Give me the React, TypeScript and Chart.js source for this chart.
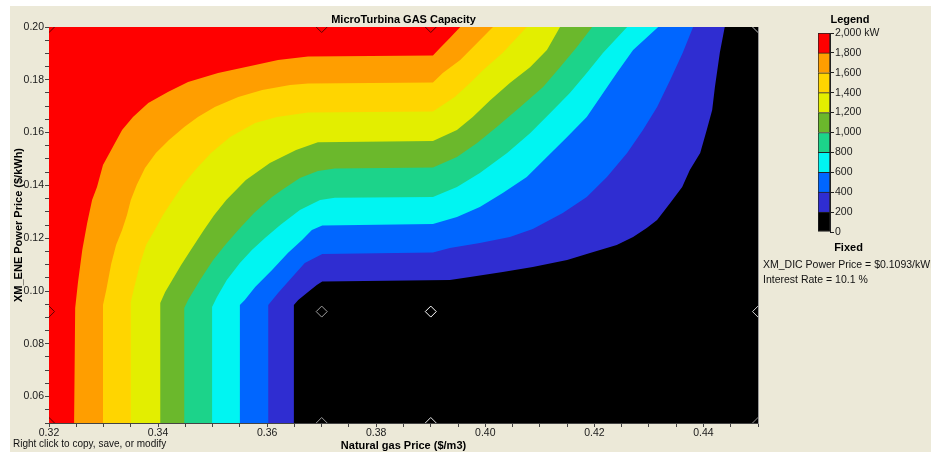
import React, { useEffect, useRef } from "react";
import { Chart, registerables } from "chart.js";

Chart.register(...registerables);

// ---------- data ----------
const gasRange = [0.32, 0.45];
const powerRange = [0.05, 0.2];

// contour lines [natural gas price $/m3, XM_ENE power price $/kWh], bottom -> top
const contour1800 = [
  [0.3246, 0.05], [0.3248, 0.0936], [0.3253, 0.103], [0.3261, 0.1155], [0.327, 0.1258],
  [0.3279, 0.1345], [0.3288, 0.1394], [0.3299, 0.1477], [0.3317, 0.1545], [0.3334, 0.161],
  [0.3354, 0.1659], [0.3382, 0.1712], [0.3418, 0.1754], [0.3455, 0.1792], [0.351, 0.1826],
  [0.3578, 0.1856], [0.362, 0.1875], [0.3675, 0.1888], [0.3904, 0.1892], [0.3917, 0.192],
  [0.3935, 0.1958], [0.3954, 0.2],
];
const contour1600 = [
  [0.3299, 0.05], [0.3299, 0.0947], [0.3305, 0.1004], [0.3314, 0.1102], [0.3323, 0.1174],
  [0.3334, 0.1231], [0.3343, 0.1288], [0.335, 0.1345], [0.3361, 0.1402], [0.3376, 0.1466],
  [0.3396, 0.1523], [0.342, 0.1572], [0.3448, 0.1621], [0.3473, 0.1659], [0.3504, 0.1697],
  [0.3547, 0.1735], [0.3591, 0.1761], [0.3642, 0.178], [0.3675, 0.1786], [0.3904, 0.179],
  [0.3922, 0.1826], [0.3954, 0.1875], [0.3985, 0.1939], [0.4014, 0.2],
];
const contour1400 = [
  [0.335, 0.05], [0.335, 0.0958], [0.3356, 0.1011], [0.3367, 0.1102], [0.3378, 0.1174],
  [0.3394, 0.1231], [0.3409, 0.1288], [0.3427, 0.1345], [0.3446, 0.1402], [0.3468, 0.1458],
  [0.3497, 0.1523], [0.3532, 0.1583], [0.3578, 0.1636], [0.3618, 0.1659], [0.3675, 0.1676],
  [0.3904, 0.168], [0.3944, 0.1735], [0.3972, 0.1788], [0.3996, 0.1837], [0.4032, 0.1902],
  [0.4076, 0.2],
];
const contour1200 = [
  [0.3404, 0.05], [0.3404, 0.0955], [0.3413, 0.0996], [0.3426, 0.1042], [0.3442, 0.1098],
  [0.346, 0.1155], [0.3484, 0.1231], [0.3503, 0.1288], [0.3525, 0.1345], [0.3561, 0.142],
  [0.3605, 0.1485], [0.3653, 0.1534], [0.3693, 0.1563], [0.3904, 0.1568], [0.3948, 0.161],
  [0.3977, 0.1659], [0.4009, 0.1723], [0.4045, 0.1788], [0.4082, 0.1848], [0.4113, 0.1913],
  [0.4137, 0.2],
];
const contour1000 = [
  [0.3448, 0.05], [0.3448, 0.0936], [0.3455, 0.0966], [0.3477, 0.1042], [0.3501, 0.1117],
  [0.3523, 0.1174], [0.3547, 0.1231], [0.3576, 0.1295], [0.3609, 0.1356], [0.3627, 0.1383],
  [0.366, 0.1428], [0.3693, 0.1455], [0.3724, 0.1464], [0.3904, 0.1468], [0.3948, 0.1508],
  [0.3985, 0.1561], [0.4021, 0.1621], [0.4064, 0.1697], [0.4106, 0.1773], [0.4137, 0.1848],
  [0.4168, 0.1924], [0.4196, 0.2],
];
const contour800 = [
  [0.3499, 0.05], [0.3499, 0.0939], [0.3508, 0.0977], [0.3526, 0.1042], [0.355, 0.1106],
  [0.3572, 0.1155], [0.3596, 0.1201], [0.3624, 0.125], [0.366, 0.1307], [0.3697, 0.1345],
  [0.3724, 0.1353], [0.3904, 0.1356], [0.3948, 0.1394], [0.399, 0.1447], [0.404, 0.1523],
  [0.4082, 0.1598], [0.4119, 0.1674], [0.4155, 0.175], [0.4186, 0.1826], [0.4216, 0.1902],
  [0.426, 0.2],
];
const contour600 = [
  [0.355, 0.05], [0.355, 0.0947], [0.3559, 0.0966], [0.3578, 0.1015], [0.3609, 0.108],
  [0.3638, 0.1144], [0.3664, 0.1193], [0.3682, 0.1231], [0.3701, 0.1248], [0.3904, 0.1254],
  [0.3948, 0.128], [0.399, 0.1318], [0.4032, 0.1371], [0.4076, 0.1432], [0.4113, 0.1508],
  [0.415, 0.1583], [0.4186, 0.1659], [0.4216, 0.175], [0.4241, 0.1826], [0.4271, 0.1913],
  [0.4317, 0.2],
];
const contour400 = [
  [0.3602, 0.05], [0.3602, 0.0947], [0.362, 0.0992], [0.3646, 0.1053], [0.3669, 0.1106],
  [0.3701, 0.114], [0.3904, 0.1146], [0.3935, 0.1163], [0.399, 0.1182], [0.4045, 0.1205],
  [0.4087, 0.1235], [0.4142, 0.1295], [0.4186, 0.1356], [0.4223, 0.1432], [0.426, 0.1523],
  [0.4289, 0.161], [0.4315, 0.1697], [0.4339, 0.1799], [0.4362, 0.1902], [0.4381, 0.2],
];
const contour200 = [
  [0.3649, 0.05], [0.3649, 0.0947], [0.3657, 0.0966], [0.3675, 0.0996], [0.3691, 0.1023],
  [0.3701, 0.1036], [0.3935, 0.1042], [0.3972, 0.1053], [0.4032, 0.1072], [0.4087, 0.1091],
  [0.415, 0.1117], [0.4192, 0.1144], [0.4241, 0.1174], [0.4271, 0.1205], [0.4296, 0.1239],
  [0.4315, 0.1269], [0.4339, 0.1333], [0.4361, 0.1394], [0.4375, 0.1458], [0.4394, 0.1523],
  [0.4406, 0.161], [0.4416, 0.1686], [0.4421, 0.1773], [0.443, 0.1902], [0.4439, 0.2],
];

// sensitivity grid points
const sensGas = [0.32, 0.37, 0.39, 0.45];
const sensPower = [0.05, 0.0922, 0.2];

// legend levels (kW)
const legendLevels = [0, 200, 400, 600, 800, 1000, 1200, 1400, 1600, 1800, 2000];

// ---------- styles ----------
const contours = [
  contour1800, contour1600, contour1400, contour1200, contour1000,
  contour800, contour600, contour400, contour200,
];
// colour of the band above each contour, then the 0-200 band
const bandColors = [
  "#FF0000", "#FF9E00", "#FFD500", "#E3EE00", "#6BB82C",
  "#1CD38A", "#00F5F2", "#0066FF", "#2F2DD1", "#000000",
];
const markerColors = [
  "#5a0000", "#9a9a9a", "#e8e8e8", "#9a9a9a",
  "#5a0000", "#a0a0a0", "#ffffff", "#d0d0d0",
  "#5a0000", "#5a0000", "#5a0000", "#c0c0c0",
];

const FONT = "'Liberation Sans', Arial, sans-serif";
const isMajor = (v: number) => Math.abs(v * 50 - Math.round(v * 50)) < 1e-6;

function mainConfig(): any {
  const markerPts: { x: number; y: number }[] = [];
  sensPower.forEach((p) => sensGas.forEach((g) => markerPts.push({ x: g, y: p })));

  const datasets: any[] = [
    {
      label: "sensitivity",
      data: markerPts,
      showLine: false,
      pointStyle: "rectRot",
      pointRadius: 5.5,
      pointHoverRadius: 5.5,
      pointBorderWidth: 1,
      pointBorderColor: markerColors,
      pointBackgroundColor: "rgba(0,0,0,0)",
      fill: false,
      clip: 0,
    },
    ...contours.map((pts, i) => ({
      label: `${legendLevels[legendLevels.length - 2 - i]} kW`,
      data: pts.map(([x, y]) => ({ x, y })),
      borderWidth: 0,
      borderColor: "rgba(0,0,0,0)",
      backgroundColor: bandColors[i],
      pointRadius: 0,
      pointHoverRadius: 0,
      tension: 0,
      fill: { value: gasRange[0] },
    })),
    {
      label: "0 kW",
      data: [
        { x: gasRange[1], y: powerRange[0] },
        { x: gasRange[1], y: powerRange[1] },
      ],
      borderWidth: 0,
      borderColor: "rgba(0,0,0,0)",
      backgroundColor: bandColors[9],
      pointRadius: 0,
      tension: 0,
      fill: { value: gasRange[0] },
    },
  ];

  const tickFont = { family: FONT, size: 10.5 };
  const titleFont = { family: FONT, size: 11, weight: "bold" as const };

  return {
    type: "line",
    data: { datasets },
    options: {
      animation: false,
      responsive: false,
      maintainAspectRatio: false,
      indexAxis: "y",
      events: [],
      layout: { padding: { left: 0, right: 42, top: 0, bottom: 0 } },
      plugins: {
        legend: { display: false },
        tooltip: { enabled: false },
        title: {
          display: true,
          text: "MicroTurbina GAS Capacity",
          fullSize: false,
          color: "#000",
          font: titleFont,
          padding: { top: 7.4, bottom: 0.4 },
        },
      },
      scales: {
        x: {
          type: "linear",
          position: "bottom",
          min: gasRange[0],
          max: gasRange[1],
          ticks: {
            stepSize: 0.005,
            autoSkip: false,
            maxRotation: 0,
            minRotation: 0,
            padding: 0,
            color: "#1a1a1a",
            font: tickFont,
            callback: (v: number) => (isMajor(v) ? Number(v).toFixed(2) : ""),
          },
          grid: { drawOnChartArea: false, tickLength: 4, tickColor: "#444" },
          border: { color: "#444" },
          title: {
            display: true,
            text: "Natural gas Price ($/m3)",
            color: "#000",
            font: { ...titleFont, lineHeight: 1 },
            padding: { top: 0, bottom: 0.5 },
          },
          afterFit: (s: any) => {
            s.height = 29;
          },
        },
        y: {
          type: "linear",
          position: "left",
          min: powerRange[0],
          max: powerRange[1],
          ticks: {
            stepSize: 0.005,
            autoSkip: false,
            padding: 1,
            color: "#1a1a1a",
            font: tickFont,
            callback: (v: number) => (isMajor(v) ? Number(v).toFixed(2) : ""),
          },
          grid: { drawOnChartArea: false, tickLength: 4, tickColor: "#444" },
          border: { color: "#444" },
          title: {
            display: true,
            text: "XM_ENE Power Price ($/kWh)",
            color: "#000",
            font: titleFont,
            padding: { top: 2, bottom: 0 },
          },
          afterFit: (s: any) => {
            s.width = 39;
          },
        },
        x2: {
          type: "linear",
          position: "top",
          min: gasRange[0],
          max: gasRange[1],
          ticks: { display: false },
          grid: { drawOnChartArea: false, drawTicks: false },
          border: { display: true, color: "#444" },
          afterFit: (s: any) => {
            s.height = 0;
          },
        },
        y2: {
          type: "linear",
          position: "right",
          min: powerRange[0],
          max: powerRange[1],
          ticks: { display: false },
          grid: { drawOnChartArea: false, drawTicks: false },
          border: { display: true, color: "#999" },
          afterFit: (s: any) => {
            s.width = 0;
          },
        },
      },
    },
  };
}

function legendConfig(): any {
  const n = legendLevels.length - 1;
  const datasets = [];
  for (let i = 0; i < n; i++) {
    datasets.push({
      label: `${legendLevels[i]}-${legendLevels[i + 1]}`,
      data: [legendLevels[i + 1] - legendLevels[i]],
      backgroundColor: bandColors[n - 1 - i],
      borderColor: "#222",
      borderWidth: { top: 1, left: 1, right: 1, bottom: i === 0 ? 1 : 0 },
      borderSkipped: false,
      barPercentage: 1,
      categoryPercentage: 1,
    });
  }
  return {
    type: "bar",
    data: { labels: [""], datasets },
    options: {
      animation: false,
      responsive: false,
      maintainAspectRatio: false,
      events: [],
      layout: { padding: { left: 13, right: 0, top: 0, bottom: 14 } },
      plugins: {
        legend: { display: false },
        tooltip: { enabled: false },
        title: {
          display: true,
          text: "Legend",
          color: "#000",
          font: { family: FONT, size: 11, weight: "bold" },
          padding: { top: 7.4, bottom: 6.4 },
        },
      },
      scales: {
        x: { display: false, stacked: true },
        y: {
          stacked: true,
          position: "right",
          min: legendLevels[0],
          max: legendLevels[legendLevels.length - 1],
          ticks: {
            stepSize: 200,
            autoSkip: false,
            padding: 1,
            color: "#1a1a1a",
            font: { family: FONT, size: 10.5 },
            callback: (v: number) =>
              v === legendLevels[legendLevels.length - 1]
                ? `${v.toLocaleString("en-US")} kW`
                : v.toLocaleString("en-US"),
          },
          grid: { drawOnChartArea: false, tickLength: 4, tickColor: "#222" },
          border: { display: true, color: "#222" },
          afterFit: (s: any) => {
            s.width = 52;
          },
        },
      },
    },
  };
}

export default function App() {
  const mainRef = useRef<HTMLCanvasElement>(null);
  const legRef = useRef<HTMLCanvasElement>(null);

  useEffect(() => {
    const c1 = new Chart(mainRef.current as HTMLCanvasElement, mainConfig());
    const c2 = new Chart(legRef.current as HTMLCanvasElement, legendConfig());
    return () => {
      c1.destroy();
      c2.destroy();
    };
  }, []);

  const txt: React.CSSProperties = {
    position: "absolute",
    fontFamily: FONT,
    fontSize: 10.5,
    lineHeight: "13px",
    color: "#111",
    whiteSpace: "nowrap",
  };

  return (
    <div
      style={{
        position: "fixed",
        left: 0,
        top: 0,
        width: 931,
        height: 452,
        background: "#ffffff",
        overflow: "hidden",
      }}
    >
      <div
        style={{
          position: "absolute",
          left: 10,
          top: 6,
          width: 921,
          height: 446,
          background: "#ECE9D8",
          overflow: "hidden",
        }}
      >
        <canvas
          ref={mainRef}
          width={790}
          height={446}
          style={{ position: "absolute", left: 0, top: 0, width: 790, height: 446 }}
        />
        <canvas
          ref={legRef}
          width={77}
          height={240}
          style={{ position: "absolute", left: 795, top: 0, width: 77, height: 240 }}
        />
        <div style={{ ...txt, left: 808, top: 234.5, width: 61, textAlign: "center", fontWeight: "bold", fontSize: 11, color: "#000" }}>
          Fixed
        </div>
        <div style={{ ...txt, left: 753, top: 251.5 }}>XM_DIC Power Price = $0.1093/kWh</div>
        <div style={{ ...txt, left: 753, top: 266.5 }}>Interest Rate = 10.1 %</div>
        <div style={{ ...txt, left: 3, top: 432, fontSize: 10, lineHeight: "12px" }}>
          Right click to copy, save, or modify
        </div>
      </div>
    </div>
  );
}
